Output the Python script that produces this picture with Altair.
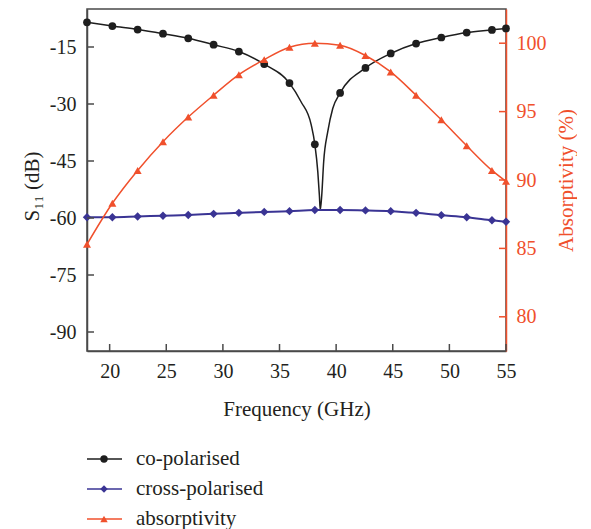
import altair as alt
import pandas as pd

# ---------------- data ----------------
freq = [18.0, 20.24, 22.47, 24.71, 26.94, 29.18, 31.41, 33.65, 35.88,
        38.12, 40.35, 42.59, 44.82, 47.06, 49.29, 51.53, 53.76, 55.0]
co_pol = [-8.5, -9.5, -10.4, -11.5, -12.7, -14.4, -16.2, -19.5, -24.5,
          -40.6, -27.1, -20.5, -16.7, -14.1, -12.5, -11.2, -10.5, -10.1]
cross_pol = [-59.8, -59.8, -59.6, -59.4, -59.2, -58.9, -58.65, -58.4, -58.2,
             -57.9, -57.9, -58.0, -58.2, -58.65, -59.25, -59.8, -60.6, -61.0]
absorptivity = [85.3, 88.3, 90.7, 92.8, 94.6, 96.2, 97.7, 98.8, 99.7,
                100.0, 99.85, 99.1, 97.9, 96.2, 94.4, 92.5, 90.7, 89.9]
# extra (unmarked) points of the co-polarised curve around the resonance dip
dip_freq = [36.9, 37.8, 38.38, 38.52, 38.6, 38.73, 38.9, 39.26, 39.7]
dip_co_pol = [-29.4, -35.5, -47.8, -54.0, -57.9, -54.0, -45.2, -37.3, -31.2]

x_ticks = [20, 25, 30, 35, 40, 45, 50, 55]
left_ticks = [-15, -30, -45, -60, -75, -90]
right_ticks = [80, 85, 90, 95, 100]

series = ["co-polarised", "cross-polarised", "absorptivity"]
colors = ["#1e1e1e", "#3a3494", "#f0502c"]
shapes = ["circle", "diamond", "triangle-up"]

# ---------------- layout constants ----------------
W, H = 419, 342
FONT = "Liberation Serif"
TXT = "#231f20"
AXC = "#4a4a4a"
TICK = 7
LEG_X = 0  # legend offset from the plot's left edge

co_df = pd.DataFrame({"f": freq, "v": co_pol})
co_line_df = pd.concat([co_df, pd.DataFrame({"f": dip_freq, "v": dip_co_pol})]).sort_values("f")
cross_df = pd.DataFrame({"f": freq, "v": cross_pol})
abs_df = pd.DataFrame({"f": freq, "v": absorptivity})
xt_df = pd.DataFrame({"f": x_ticks})
lt_df = pd.DataFrame({"v": left_ticks})
rt_df = pd.DataFrame({"v": right_ticks})

xs = alt.Scale(domain=[18, 55], nice=False, zero=False)
yls = alt.Scale(domain=[-95, -5], nice=False, zero=False)
yrs = alt.Scale(domain=[77.5, 102.5], nice=False, zero=False)

X_axis = alt.X("f:Q", scale=xs, axis=alt.Axis(
    values=x_ticks, title="Frequency (GHz)", labelPadding=10, titlePadding=17,
    labelFlush=False))

YL_axis = alt.Y("v:Q", scale=yls, axis=alt.Axis(
    values=left_ticks, title="S₁₁ (dB)", labelPadding=11, titlePadding=7,
    titleY=177, labelExpr="'' + datum.value", labelFlush=False))

YR_axis = alt.Y("v:Q", scale=yrs, axis=alt.Axis(
    orient="right", values=right_ticks, title="Absorptivity (%)", titleAngle=270,
    labelPadding=10, titlePadding=30, labelColor=colors[2], titleColor=colors[2],
    domainColor=colors[2], labelFlush=False))

co_line = alt.Chart(co_line_df).mark_line(
    color=colors[0], strokeWidth=1.5, interpolate="monotone").encode(x=X_axis, y=YL_axis)
co_pts = alt.Chart(co_df).mark_point(
    shape=shapes[0], filled=True, size=60, color=colors[0], opacity=1).encode(x=X_axis, y=YL_axis)
cross_line = alt.Chart(cross_df).mark_line(
    color=colors[1], strokeWidth=2, interpolate="monotone").encode(x=X_axis, y=YL_axis)
cross_pts = alt.Chart(cross_df).mark_point(
    shape=shapes[1], filled=True, size=70, color=colors[1], opacity=1).encode(x=X_axis, y=YL_axis)
left_tick_marks = alt.Chart(lt_df).mark_rule(color=AXC, strokeWidth=1.5).encode(
    y=YL_axis, x=alt.value(0), x2=alt.value(TICK))
bottom_tick_marks = alt.Chart(xt_df).mark_rule(color=AXC, strokeWidth=1.5).encode(
    x=X_axis, y=alt.value(H), y2=alt.value(H - TICK))

left = alt.layer(co_line, cross_line, co_pts, cross_pts, left_tick_marks, bottom_tick_marks)

abs_line = alt.Chart(abs_df).mark_line(
    color=colors[2], strokeWidth=1.5, interpolate="monotone").encode(x=X_axis, y=YR_axis)
abs_pts = alt.Chart(abs_df).mark_point(
    shape=shapes[2], filled=True, size=64, color=colors[2], opacity=1).encode(x=X_axis, y=YR_axis)
right_tick_marks = alt.Chart(rt_df).mark_rule(color=colors[2], strokeWidth=1.5).encode(
    y=YR_axis, x=alt.value(W - TICK), x2=alt.value(W))

right = alt.layer(abs_line, abs_pts, right_tick_marks)

main = alt.layer(left, right).resolve_scale(y="independent").properties(width=W, height=H)

# ---------------- legend (drawn below the plot) ----------------
leg_df = pd.DataFrame({"s": series})
band = alt.Y("s:N", scale=alt.Scale(domain=series, paddingInner=0, paddingOuter=0), axis=None)
col = alt.Color("s:N", scale=alt.Scale(domain=series, range=colors), legend=None)
shp = alt.Shape("s:N", scale=alt.Scale(domain=series, range=shapes), legend=None)
leg_line = alt.Chart(leg_df).mark_rule(strokeWidth=1.5).encode(
    y=band, x=alt.value(LEG_X), x2=alt.value(LEG_X + 35), color=col)
leg_pt = alt.Chart(leg_df).mark_point(filled=True, size=55, opacity=1).encode(
    y=band, x=alt.value(LEG_X + 17), color=col, shape=shp)
leg_txt = alt.Chart(leg_df).mark_text(
    align="left", baseline="middle", font=FONT, fontSize=21, color=TXT).encode(
    y=band, x=alt.value(LEG_X + 49), text="s:N")
legend = alt.layer(leg_line, leg_pt, leg_txt).properties(
    width=300, height=90, view=alt.ViewBackground(strokeOpacity=0))

chart = alt.vconcat(main, legend, spacing=24).properties(
    padding={"left": 12, "top": 0, "right": 0, "bottom": 0}
).configure_view(stroke=AXC, strokeWidth=1.5).configure_axis(
    grid=False, tickSize=0, domainColor=AXC, domainWidth=1.5,
    labelFont=FONT, titleFont=FONT, labelFontSize=20, titleFontSize=21,
    titleFontWeight="normal", labelColor=TXT, titleColor=TXT
)

chart.save("out.html", embed_options={"renderer": "svg", "actions": False})
